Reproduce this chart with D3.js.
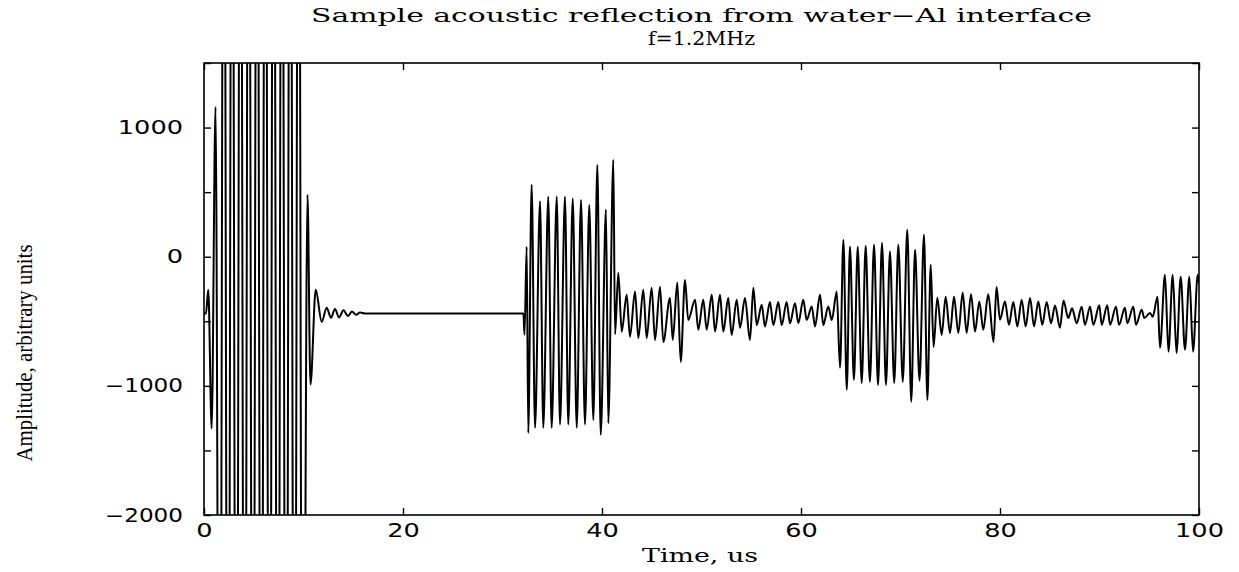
<!DOCTYPE html>
<html>
<head>
<meta charset="utf-8">
<script src="https://cdn.jsdelivr.net/npm/d3@7"></script>
<style>
  html, body { margin: 0; padding: 0; background: #fff; }
  svg { display: block; }
</style>
</head>
<body>
<svg id="chart" width="1239" height="572"></svg>
<script>
// ---- Data (time in microseconds, amplitude in arbitrary units) ----
// Transmit pulse (saturated) and its ring-down
const transmitT = [0, 0.20, 0.43, 0.77, 1.16, 1.58, 1.99, 2.41, 2.82, 3.25, 3.66, 4.08, 4.49, 4.91, 5.33, 5.75, 6.16, 6.58, 6.99, 7.42, 7.83, 8.25, 8.66, 9.09, 9.50, 9.92, 10.40, 10.70, 11.23, 11.83, 12.33, 12.76, 13.17, 13.57, 14.02, 14.47, 14.87, 15.28, 15.68, 16.18];
const transmitA = [-440, -440, -256, -1330, 1160, -6000, 5000, -6000, 5000, -6000, 5000, -6000, 5000, -6000, 5000, -6000, 5000, -6000, 5000, -6000, 5000, -6000, 5000, -6000, 5000, -6000, 480, -990, -256, -504, -395, -473, -405, -470, -415, -460, -425, -450, -432, -440];

// First echo (water-Al front face)
const echo1T = [32.10, 32.21, 32.43, 32.59, 32.93, 33.27, 33.77, 34.10, 34.60, 34.94, 35.45, 35.78, 36.28, 36.61, 37.06, 37.46, 37.89, 38.29, 38.72, 39.13, 39.53, 39.87, 40.40, 40.63, 41.14, 41.31, 41.64];
const echo1A = [-440, -605, 78, -1365, 558, -1325, 430, -1325, 465, -1325, 465, -1300, 465, -1300, 450, -1325, 440, -1300, 400, -1265, 710, -1380, 365, -1290, 750, -600, -124];

// Reverberation between echoes
const ring1T = [41.98, 42.48, 42.81, 43.32, 43.65, 44.15, 44.49, 44.99, 45.33, 45.83, 46.16, 46.83, 47.11, 47.57, 47.91, 48.34, 48.67, 49.35, 49.68, 50.18, 50.52, 51.03, 51.36, 51.86, 52.19, 52.69, 53.03, 53.54, 53.87, 54.37, 54.87, 55.21, 55.55, 56.05, 56.38, 56.88, 57.22, 57.72, 58.06, 58.56, 58.89, 59.40, 59.73, 60.23, 60.57, 61.08, 61.41, 61.91, 62.24, 62.74, 63.09, 63.59, 63.92];
const ring1A = [-580, -295, -620, -270, -630, -255, -630, -240, -645, -232, -660, -320, -645, -200, -815, -180, -490, -333, -565, -333, -565, -295, -580, -295, -580, -320, -605, -333, -550, -320, -645, -240, -530, -372, -540, -350, -530, -350, -530, -350, -515, -360, -515, -333, -490, -385, -540, -295, -530, -385, -490, -270, -860];

// Second echo (back face)
const echo2T = [64.26, 64.60, 64.92, 65.32, 65.70, 66.10, 66.50, 66.92, 67.34, 67.74, 68.14, 68.54, 68.94, 69.37, 69.78, 70.23, 70.68, 71.08, 71.46, 71.91, 72.36, 72.70, 73.04, 73.32];
const echo2A = [130, -1030, 80, -953, 78, -977, 85, -969, 93, -992, 108, -992, 40, -977, 93, -969, 209, -1124, 54, -960, 171, -1109, -62, -700];

// Reverberation after second echo
const ring2T = [73.70, 74.14, 74.54, 74.97, 75.38, 75.81, 76.25, 76.65, 77.09, 77.49, 77.92, 78.32, 78.82, 79.35, 79.65, 80.00, 80.50, 80.90, 81.34, 81.74, 82.18, 82.58, 83.02, 83.42, 83.85, 84.25, 84.69, 85.13, 85.53, 86.03, 86.38, 86.86, 87.24, 87.71, 88.21, 88.54, 89.05, 89.38, 89.98, 90.22, 90.78, 91.06, 91.66, 91.96, 92.56, 92.79, 93.40, 93.67, 94.24, 94.50, 95.08, 95.35, 95.83];
const ring2A = [-318, -605, -310, -590, -310, -590, -280, -590, -290, -580, -346, -565, -290, -660, -235, -488, -346, -527, -350, -540, -333, -540, -320, -540, -346, -527, -350, -515, -378, -550, -340, -475, -400, -515, -388, -527, -388, -527, -375, -527, -375, -527, -388, -527, -395, -515, -388, -527, -410, -475, -435, -465, -310];

// Third echo (start)
const echo3T = [96.08, 96.58, 96.93, 97.36, 97.74, 98.16, 98.59, 99.03, 99.40, 99.87, 100];
const echo3A = [-705, -140, -735, -140, -745, -155, -720, -155, -735, -140, -200];

// Axis ticks and labels
const xTicks = [0, 20, 40, 60, 80, 100];
const yTicks = [-2000, -1500, -1000, -500, 0, 500, 1000, 1500];
const yLabels = [-2000, -1000, 0, 1000];
const titleLines = ["Sample acoustic reflection from water\u2212Al interface", "f=1.2MHz"];
const xLabel = "Time, us";
const yLabel = "Amplitude, arbitrary units";

// ---- Layout ----
const svg = d3.select("#chart");
const L = 204, R = 1199, T = 63, B = 515;
const x = d3.scaleLinear().domain([0, 100]).range([L, R]);
const y = d3.scaleLinear().domain([-2000, 1500]).range([B, T]);

function pairs(ts, as) { return ts.map((t, i) => [t, as[i]]); }
const signal = [].concat(
  pairs(transmitT, transmitA),
  pairs(echo1T, echo1A),
  pairs(ring1T, ring1A),
  pairs(echo2T, echo2A),
  pairs(ring2T, ring2A),
  pairs(echo3T, echo3A)
);

svg.append("defs").append("clipPath").attr("id", "plotclip")
  .append("rect").attr("x", L).attr("y", T).attr("width", R - L).attr("height", B - T);

const line = d3.line().x(d => x(d[0])).y(d => y(d[1])).curve(d3.curveMonotoneX);
svg.append("path")
  .datum(signal)
  .attr("clip-path", "url(#plotclip)")
  .attr("fill", "none")
  .attr("stroke", "#000")
  .attr("stroke-width", 2)
  .attr("stroke-linejoin", "round")
  .attr("d", line);

// ---- Axes ----
const tickFont = "'DejaVu Sans', sans-serif";
function styleAxis(g) {
  g.select(".domain").remove();
  g.selectAll(".tick line").attr("stroke", "#000").attr("stroke-width", 1.4);
  g.selectAll(".tick text")
    .attr("fill", "#000")
    .style("font-family", tickFont)
    .style("font-size", "19px");
}
function widen(g) {
  g.selectAll(".tick text").each(function() {
    const s = this.textContent;
    if (!s) return;
    const digits = s.replace(/[^0-9]/g, "").length;
    const w = digits * 16.3 + (s.length > digits ? 13 : 0);
    d3.select(this).attr("textLength", w).attr("lengthAdjust", "spacingAndGlyphs");
  });
}

const fmt = d3.format("d");
svg.append("g").attr("transform", `translate(0,${B})`)
  .call(d3.axisBottom(x).tickValues(xTicks).tickSize(-7).tickPadding(9).tickFormat(fmt))
  .call(styleAxis).call(widen);
svg.append("g").attr("transform", `translate(0,${T})`)
  .call(d3.axisTop(x).tickValues(xTicks).tickSize(-7).tickFormat(""))
  .call(styleAxis);
svg.append("g").attr("transform", `translate(${L},0)`)
  .call(d3.axisLeft(y).tickValues(yTicks).tickSize(-7).tickPadding(21)
    .tickFormat(d => yLabels.includes(d) ? fmt(d) : ""))
  .call(styleAxis).call(widen);
svg.append("g").attr("transform", `translate(${R},0)`)
  .call(d3.axisRight(y).tickValues(yTicks).tickSize(-7).tickFormat(""))
  .call(styleAxis);

svg.append("rect")
  .attr("x", L).attr("y", T).attr("width", R - L).attr("height", B - T)
  .attr("fill", "none").attr("stroke", "#000").attr("stroke-width", 1.6);

// ---- Text ----
const serif = "'DejaVu Serif', 'Liberation Serif', serif";
svg.append("text")
  .attr("x", (L + R) / 2).attr("y", 22)
  .attr("text-anchor", "middle")
  .attr("textLength", 781).attr("lengthAdjust", "spacingAndGlyphs")
  .style("font-family", serif).style("font-size", "19px")
  .text(titleLines[0]);
svg.append("text")
  .attr("x", (L + R) / 2).attr("y", 45)
  .attr("text-anchor", "middle")
  .attr("textLength", 107).attr("lengthAdjust", "spacingAndGlyphs")
  .style("font-family", serif).style("font-size", "18px")
  .text(titleLines[1]);
svg.append("text")
  .attr("x", 700).attr("y", 562)
  .attr("text-anchor", "middle")
  .attr("textLength", 116).attr("lengthAdjust", "spacingAndGlyphs")
  .style("font-family", serif).style("font-size", "19px")
  .text(xLabel);
svg.append("text")
  .attr("transform", "translate(32,353) rotate(-90)")
  .attr("text-anchor", "middle")
  .attr("textLength", 217).attr("lengthAdjust", "spacingAndGlyphs")
  .style("font-family", "'Liberation Serif', 'Times New Roman', serif").style("font-size", "24px")
  .text(yLabel);
</script>
</body>
</html>
